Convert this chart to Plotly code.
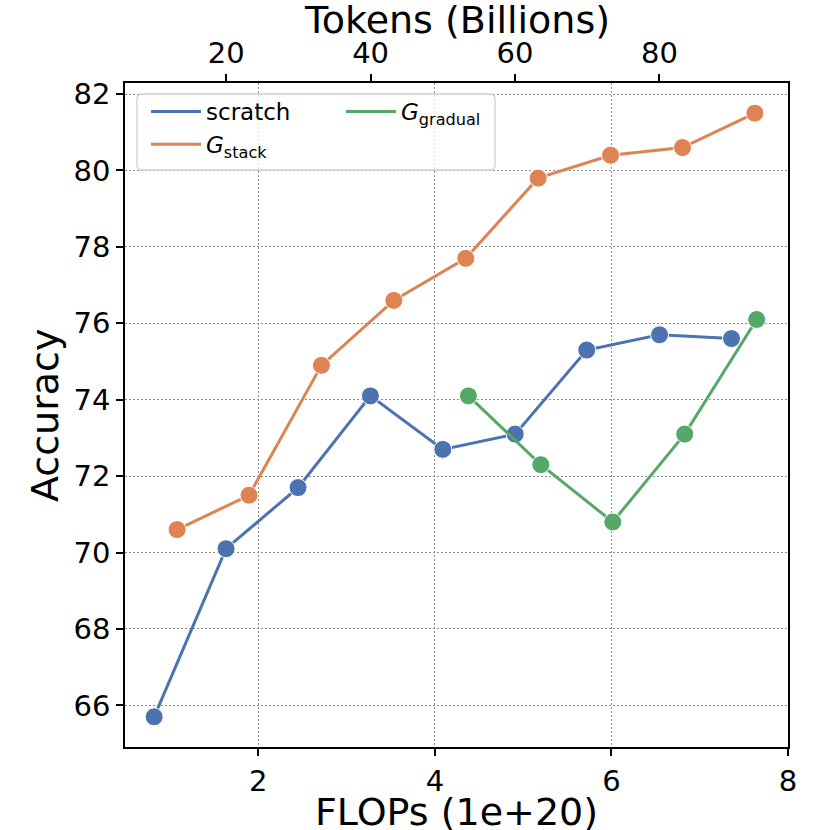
import plotly.graph_objects as go

# ---- data ----
scratch_flops = [0.82, 1.635, 2.45, 3.27, 4.09, 4.91, 5.72, 6.545, 7.36]
scratch_acc = [65.7, 70.1, 71.7, 74.1, 72.7, 73.1, 75.3, 75.7, 75.6]

stack_flops = [1.08, 1.895, 2.715, 3.535, 4.35, 5.17, 5.99, 6.805, 7.625]
stack_acc = [70.6, 71.5, 74.9, 76.6, 77.7, 79.8, 80.4, 80.6, 81.5]

gradual_flops = [4.38, 5.20, 6.015, 6.83, 7.645]
gradual_acc = [74.1, 72.3, 70.8, 73.1, 76.1]

x_ticks = [2, 4, 6, 8]
y_ticks = [66, 68, 70, 72, 74, 76, 78, 80, 82]
token_ticks = [20, 40, 60, 80]
flops_per_btoken = 0.0818  # 1e20 FLOPs per billion tokens (top axis scale)

x_range = [0.49, 8.0]
y_range = [64.91, 82.29]

FONT = "DejaVu Sans"
BLUE, ORANGE, GREEN = "#4C72B0", "#DD8452", "#55A868"

W, H = 830, 830
ML, MR, MT, MB = 125, 42, 83, 83
PW, PH = W - ML - MR, H - MT - MB


def px_x(px):
    return (px - ML) / PW


def px_y(py):
    return 1 - (py - MT) / PH


series = [
    ("scratch", scratch_flops, scratch_acc, BLUE, "legend"),
    ("<i>G</i><sub>stack</sub>", stack_flops, stack_acc, ORANGE, "legend"),
    ("<i>G</i><sub>gradual</sub>", gradual_flops, gradual_acc, GREEN, "legend2"),
]

fig = go.Figure()
for name, xs, ys, color, leg in series:
    fig.add_trace(go.Scatter(
        x=xs, y=ys, mode="lines", name=name, legend=leg,
        line=dict(color=color, width=3), showlegend=True,
    ))
    fig.add_trace(go.Scatter(
        x=xs, y=ys, mode="markers", name=name, showlegend=False,
        marker=dict(color=color, size=18, line=dict(color="white", width=1)),
    ))

axis_common = dict(
    showline=True, linecolor="black", linewidth=1.6,
    ticks="outside", ticklen=7, tickwidth=1.5, tickcolor="black",
    tickfont=dict(family=FONT, size=29, color="black"),
    zeroline=False, automargin=False,
)
grid = dict(showgrid=True, gridcolor="#8c8c8c", griddash="1.5px,2.5px", gridwidth=1.2)

fig.update_layout(
    width=W, height=H,
    margin=dict(l=ML, r=MR, t=MT, b=MB),
    paper_bgcolor="white", plot_bgcolor="white",
    font=dict(family=FONT, color="black"),
    xaxis=dict(range=x_range, tickvals=x_ticks, mirror=True, **grid, **axis_common),
    xaxis2=dict(
        overlaying="x", side="top", anchor="y",
        range=[x_range[0] / flops_per_btoken, x_range[1] / flops_per_btoken],
        tickvals=token_ticks, showgrid=False, **axis_common,
    ),
    yaxis=dict(range=y_range, tickvals=y_ticks, mirror=True, **grid, **axis_common),
    legend=dict(
        x=px_x(146), y=px_y(90), xanchor="left", yanchor="top",
        bgcolor="rgba(0,0,0,0)", borderwidth=0, itemwidth=50,
        font=dict(family=FONT, size=23, color="black"),
    ),
    legend2=dict(
        x=px_x(341), y=px_y(90), xanchor="left", yanchor="top",
        bgcolor="rgba(0,0,0,0)", borderwidth=0, itemwidth=50,
        font=dict(family=FONT, size=23, color="black"),
    ),
)

# invisible anchor so the top axis is drawn with its own scale
fig.add_trace(go.Scatter(
    x=token_ticks, y=[None] * len(token_ticks), xaxis="x2",
    mode="markers", showlegend=False, hoverinfo="skip",
))

# axis titles
title_font = dict(family=FONT, size=38, color="black")
fig.add_annotation(text="FLOPs (1e+20)", xref="paper", yref="paper",
                   x=0.5, y=px_y(812), xanchor="center", yanchor="middle",
                   showarrow=False, font=title_font)
fig.add_annotation(text="Tokens (Billions)", xref="paper", yref="paper",
                   x=0.5, y=px_y(20), xanchor="center", yanchor="middle",
                   showarrow=False, font=title_font)
fig.add_annotation(text="Accuracy", xref="paper", yref="paper",
                   x=px_x(45), y=0.5, xanchor="center", yanchor="middle",
                   textangle=-90, showarrow=False, font=title_font)

# legend frame (matplotlib-style rounded box)
x0, x1 = px_x(137), px_x(495)
y0, y1 = px_y(170), px_y(94)
rx, ry = 5 / PW, 5 / PH
path = (
    f"M{x0 + rx},{y1} L{x1 - rx},{y1} Q{x1},{y1} {x1},{y1 - ry} "
    f"L{x1},{y0 + ry} Q{x1},{y0} {x1 - rx},{y0} "
    f"L{x0 + rx},{y0} Q{x0},{y0} {x0},{y0 + ry} "
    f"L{x0},{y1 - ry} Q{x0},{y1} {x0 + rx},{y1} Z"
)
fig.add_shape(type="path", xref="paper", yref="paper", path=path,
              line=dict(color="#d0d0d0", width=1.3),
              fillcolor="rgba(255,255,255,0.8)", layer="above")

fig.write_html(
    "out.html",
    config={"displayModeBar": False},
    post_script="document.body.style.margin='0px';document.body.style.overflow='hidden';",
)
